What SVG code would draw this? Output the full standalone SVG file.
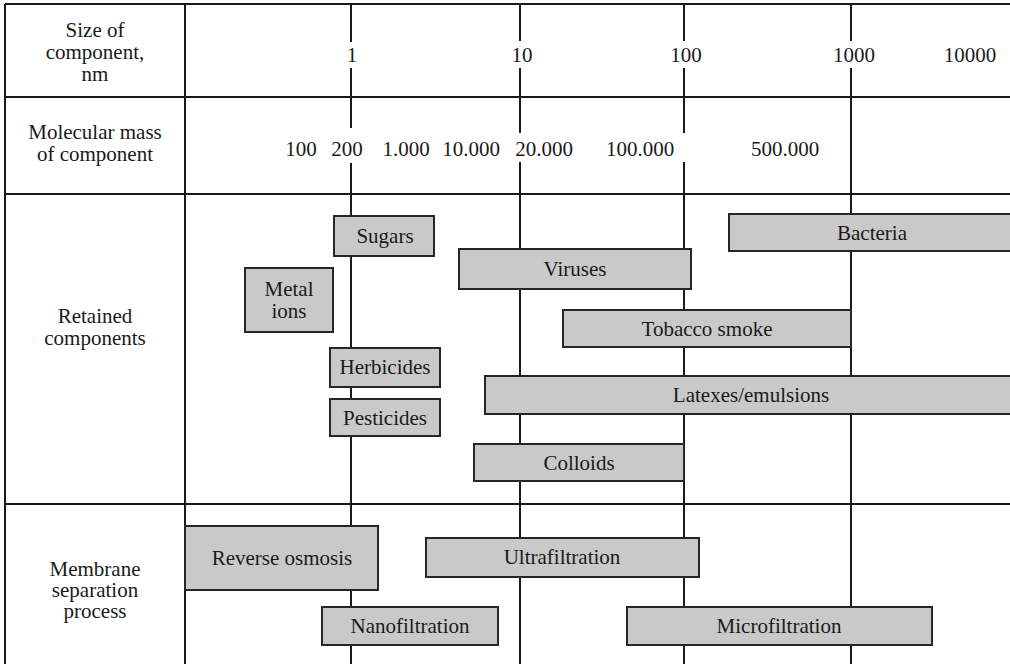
<svg xmlns="http://www.w3.org/2000/svg" width="1010" height="664" viewBox="0 0 1010 664">
<style>
text{font-family:"Liberation Serif","Times New Roman",serif;font-size:21px;fill:#1a1a1a;text-anchor:middle}
.grid line{stroke:#1a1a1a;stroke-width:2}
.box rect{fill:#c9c9c9;stroke:#262626;stroke-width:2}
</style>
<rect width="1010" height="664" fill="#ffffff"/>
<g id="grid" class="grid">
<line x1="5" y1="4" x2="1010" y2="4"/>
<line x1="5" y1="97" x2="1010" y2="97"/>
<line x1="5" y1="194" x2="1010" y2="194"/>
<line x1="5" y1="504" x2="1010" y2="504"/>
<line x1="5" y1="4" x2="5" y2="664"/>
<line x1="185" y1="4" x2="185" y2="664"/>
<line x1="351" y1="4" x2="351" y2="42"/><line x1="351" y1="68" x2="351" y2="128"/><line x1="351" y1="163" x2="351" y2="664"/>
<line x1="520" y1="4" x2="520" y2="41"/><line x1="520" y1="68" x2="520" y2="133"/><line x1="520" y1="162" x2="520" y2="664"/>
<line x1="684" y1="4" x2="684" y2="41"/><line x1="684" y1="68" x2="684" y2="133"/><line x1="684" y1="162" x2="684" y2="664"/>
<line x1="851" y1="4" x2="851" y2="41"/><line x1="851" y1="68" x2="851" y2="664"/>
</g>
<g id="row-labels">
<text x="95" y="37">Size of</text>
<text x="95" y="59">component,</text>
<text x="95" y="81">nm</text>
<text x="95" y="139">Molecular mass</text>
<text x="95" y="161">of component</text>
<text x="95" y="323">Retained</text>
<text x="95" y="345">components</text>
<text x="95" y="576">Membrane</text>
<text x="95" y="597">separation</text>
<text x="95" y="618">process</text>
</g>
<g id="size-scale">
<text x="352" y="62">1</text>
<text x="522" y="62">10</text>
<text x="686" y="62">100</text>
<text x="854" y="62">1000</text>
<text x="970" y="62">10000</text>
</g>
<g id="mass-scale">
<text x="301" y="156">100</text>
<text x="347" y="156">200</text>
<text x="406" y="156">1.000</text>
<text x="471" y="156">10.000</text>
<text x="544" y="156">20.000</text>
<text x="640" y="156">100.000</text>
<text x="785" y="156">500.000</text>
</g>
<g id="sugars" class="box"><rect x="334" y="216" width="100" height="40"/><text x="385" y="243">Sugars</text></g>
<g id="bacteria" class="box"><rect x="729" y="214" width="290" height="37"/><text x="872" y="240">Bacteria</text></g>
<g id="viruses" class="box"><rect x="459" y="249" width="232" height="40"/><text x="575" y="276">Viruses</text></g>
<g id="metal-ions" class="box"><rect x="245" y="268" width="88" height="64"/><text x="289" y="296">Metal</text><text x="289" y="318">ions</text></g>
<g id="tobacco-smoke" class="box"><rect x="563" y="310" width="288" height="37"/><text x="707" y="336">Tobacco smoke</text></g>
<g id="herbicides" class="box"><rect x="330" y="348" width="110" height="39"/><text x="385" y="374">Herbicides</text></g>
<g id="latexes-emulsions" class="box"><rect x="485" y="376" width="534" height="38"/><text x="751" y="402">Latexes/emulsions</text></g>
<g id="pesticides" class="box"><rect x="330" y="399" width="110" height="37"/><text x="385" y="425">Pesticides</text></g>
<g id="colloids" class="box"><rect x="474" y="444" width="210" height="37"/><text x="579" y="470">Colloids</text></g>
<g id="reverse-osmosis" class="box"><rect x="185" y="526" width="193" height="64"/><text x="282" y="565">Reverse osmosis</text></g>
<g id="ultrafiltration" class="box"><rect x="426" y="538" width="273" height="39"/><text x="562" y="564">Ultrafiltration</text></g>
<g id="nanofiltration" class="box"><rect x="322" y="607" width="176" height="38"/><text x="410" y="633">Nanofiltration</text></g>
<g id="microfiltration" class="box"><rect x="627" y="607" width="305" height="38"/><text x="779" y="633">Microfiltration</text></g>
</svg>
